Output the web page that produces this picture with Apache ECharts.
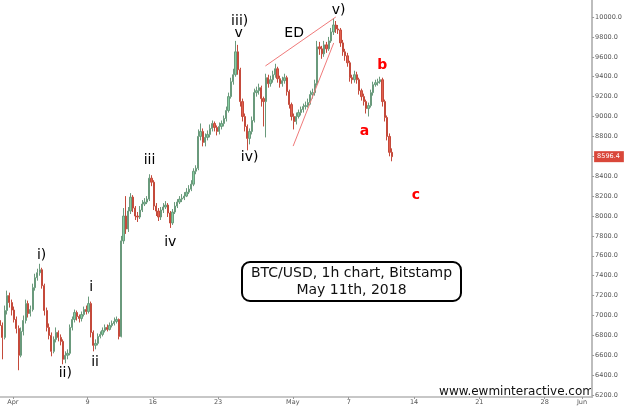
<!DOCTYPE html>
<html>
<head>
<meta charset="utf-8">
<title>BTC/USD 1h</title>
<script src="https://cdn.jsdelivr.net/npm/echarts@6.0.0/dist/echarts.min.js"></script>
<style>
  html, body { margin: 0; padding: 0; background: #fff; }
  #chart { width: 625px; height: 407px; }
</style>
</head>
<body>
<div id="chart"></div>
<script>
// 6h candles, first one opens Mar 30 12:00
const firstOpen = 6950;
const closes = [
  6900, 6780, 7050, 7200, 7130, 7055,
  6960, 6870, 6600, 6840, // Apr 1
  6950, 7120, 7020, 7060,
  7280, 7380, 7430, 7460,
  7300, 7050, 6880, 6800,
  6640, 6760, 6830, 6780,
  6740, 6560, 6600, 6620,
  6880, 6960, 7030, 6990,
  6970, 7010, 7060, 7040,
  7120, 6830, 6700, 6720, // Apr 9
  6790, 6810, 6850, 6880,
  6860, 6900, 6920, 6940,
  6960, 6790, 7750, 8000,
  7870, 8050, 8190, 8080,
  8000, 7990, 8060, 8120,
  8140, 8170, 8380, 8340,
  8100, 8050, 7990, 8060, // Apr 16
  8090, 8110, 8030, 7930,
  8040, 8100, 8140, 8170,
  8180, 8200, 8240, 8270,
  8320, 8450, 8480, 8800,
  8850, 8740, 8790, 8820,
  8880, 8930, 8890, 8850,
  8900, 8930, 8980, 9060, // Apr 23
  9200, 9350, 9420, 9650,
  9470, 9150, 9000, 8900,
  8780, 8850, 8960, 9240,
  9260, 9290, 9180, 9150,
  9390, 9330, 9370, 9420,
  9480, 9380, 9330, 9360,
  9390, 9250, 9120, 9000,
  8950, 9000, 9040, 9070, // May 1
  9100, 9110, 9140, 9220,
  9240, 9330, 9700, 9680,
  9630, 9720, 9680, 9760,
  9850, 9920, 9880, 9870,
  9740, 9650, 9610, 9540,
  9390, 9370, 9420, 9370, // May 7
  9260, 9200, 9150, 9080,
  9110, 9240, 9320, 9340,
  9350, 9370, 9150, 8990,
  8800, 8640, 8596.4
];
const highs = [
  7000, 6930, 7100, 7250, 7230, 7160,
  7090, 6990, 6900, 6880,
  7000, 7160, 7150, 7100,
  7320, 7420, 7470, 7520,
  7480, 7320, 7080, 6920,
  6830, 6790, 6880, 6850,
  6810, 6760, 6640, 6660,
  6910, 6990, 7060, 7050,
  7010, 7040, 7090, 7100,
  7190, 7140, 6850, 6760,
  6820, 6840, 6880, 6910,
  6910, 6930, 6950, 6980,
  6990, 6970, 7800, 8080,
  8200, 8090, 8230, 8210,
  8100, 8040, 8100, 8160,
  8180, 8200, 8420, 8410,
  8360, 8130, 8080, 8090,
  8130, 8150, 8130, 8050,
  8070, 8140, 8170, 8200,
  8220, 8240, 8280, 8310,
  8360, 8480, 8510, 8870,
  8930, 8880, 8830, 8860,
  8920, 8960, 8950, 8910,
  8940, 8960, 9010, 9100,
  9240, 9390, 9480, 9760,
  9720, 9490, 9180, 9030,
  8920, 8880, 9000, 9280,
  9300, 9330, 9310, 9200,
  9430, 9420, 9410, 9460,
  9530, 9500, 9410, 9400,
  9430, 9410, 9270, 9140,
  9030, 9040, 9070, 9100,
  9130, 9150, 9180, 9260,
  9280, 9370, 9760, 9750,
  9710, 9760, 9750, 9800,
  9890, 9990, 9960, 9920,
  9890, 9770, 9680, 9640,
  9560, 9420, 9460, 9450,
  9390, 9280, 9230, 9170,
  9140, 9270, 9350, 9370,
  9380, 9400, 9390, 9170,
  9010, 8830, 8680
];
const lows = [
  6860, 6560, 6760, 7010, 7080, 7000,
  6930, 6820, 6450, 6580,
  6800, 6920, 6980, 6990,
  7040, 7250, 7350, 7400,
  7270, 7000, 6840, 6760,
  6590, 6620, 6730, 6740,
  6700, 6510, 6520, 6560,
  6600, 6850, 6930, 6950,
  6930, 6940, 6990, 7010,
  7020, 6780, 6640, 6660,
  6700, 6770, 6790, 6830,
  6840, 6850, 6880, 6900,
  6920, 6760, 6780, 7720,
  7820, 7840, 8020, 8040,
  7960, 7940, 7970, 8040,
  8100, 8120, 8150, 8300,
  8060, 8000, 7950, 7960,
  8030, 8070, 7990, 7880,
  7910, 8020, 8080, 8120,
  8140, 8160, 8190, 8220,
  8250, 8300, 8420, 8460,
  8760, 8700, 8700, 8760,
  8790, 8850, 8850, 8810,
  8820, 8870, 8900, 8950,
  9040, 9180, 9320, 9400,
  9420, 9100, 8950, 8850,
  8660, 8720, 8820, 8940,
  9200, 9220, 9100, 8900,
  8790, 9290, 9300, 9340,
  9390, 9340, 9290, 9300,
  9330, 9210, 9080, 8960,
  8870, 8920, 8980, 9010,
  9040, 9070, 9090, 9120,
  9180, 9210, 9310, 9620,
  9580, 9600, 9640, 9660,
  9740, 9820, 9840, 9830,
  9700, 9610, 9560, 9500,
  9350, 9330, 9340, 9330,
  9220, 9160, 9110, 9030,
  9000, 9090, 9210, 9300,
  9310, 9330, 9100, 8950,
  8760, 8600, 8550
];

const priceTicks = [6200, 6400, 6600, 6800, 7000, 7200, 7400, 7600, 7800, 8000,
  8200, 8400, 8800, 9000, 9200, 9400, 9600, 9800, 10000];
const dateTicks = ['2018-04-01', '2018-04-09', '2018-04-16', '2018-04-23', '2018-05-01',
  '2018-05-07', '2018-05-14', '2018-05-21', '2018-05-28', '2018-06-01'];
const dateTickLabels = ['Apr', '9', '16', '23', 'May', '7', '14', '21', '28', 'Jun'];

// wave count labels: [time, price, text]
const waveLabels = [
  ['2018-04-04 02:00', 7600, 'i)'],
  ['2018-04-06 15:00', 6420, 'ii)'],
  ['2018-04-09 09:20', 7287, 'i'],
  ['2018-04-09 19:30', 6533, 'ii'],
  ['2018-04-15 15:40', 8563, 'iii'],
  ['2018-04-17 21:00', 7739, 'iv'],
  ['2018-04-25 07:30', 9960, 'iii)'],
  ['2018-04-25 05:00', 9839, 'v'],
  ['2018-04-26 09:00', 8593, 'iv)'],
  ['2018-05-01 03:30', 9839, 'ED'],
  ['2018-05-05 22:00', 10070, 'v)']
];
const abcLabels = [
  ['2018-05-08 16:30', 8854, 'a'],
  ['2018-05-10 14:20', 9518, 'b'],
  ['2018-05-14 05:00', 8211, 'c']
];
// ending diagonal trend lines
const edLines = [
  [['2018-04-28 01:40', 9508], ['2018-05-05 14:40', 10000]],
  [['2018-05-01 01:00', 8703], ['2018-05-05 09:20', 9739]]
];

function toTime(s) {
  const [d, t] = s.split(' ');
  const [y, m, day] = d.split('-').map(Number);
  const [hh, mm] = (t || '00:00').split(':').map(Number);
  return new Date(y, m - 1, day, hh, mm).getTime();
}

const start = new Date(2018, 2, 30, 12, 0).getTime();
const step = 6 * 3600 * 1000;
const n = Math.min(closes.length, highs.length, lows.length);
const candles = [];
for (let i = 0; i < n; i++) {
  const o = i === 0 ? firstOpen : closes[i - 1];
  candles.push([start + i * step + step / 2, o, closes[i], lows[i], highs[i]]);
}
const lastClose = closes[n - 1];

const tickTimes = dateTicks.map(toTime);
const font = 'DejaVu Sans';

const chart = echarts.init(document.getElementById('chart'));
const option = {
  animation: false,
  backgroundColor: '#fff',
  grid: { left: 0, right: 27, top: 0, bottom: 10 },
  xAxis: {
    type: 'value',
    min: toTime('2018-03-30 15:00'),
    max: toTime('2018-06-02 02:00'),
    axisLine: { show: true, lineStyle: { color: '#b5b5b5', width: 1.5 } },
    axisTick: { show: true, length: 2, lineStyle: { color: '#999' }, customValues: tickTimes },
    splitLine: { show: false },
    axisLabel: {
      customValues: tickTimes,
      fontSize: 6.5,
      color: '#555',
      margin: 2,
      fontFamily: font,
      formatter: (v) => {
        const i = tickTimes.indexOf(v);
        return i >= 0 ? dateTickLabels[i] : '';
      }
    }
  },
  yAxis: {
    type: 'value',
    position: 'right',
    min: 6181,
    max: 10171,
    axisLine: { show: true, lineStyle: { color: '#bdbdbd', width: 2 } },
    axisTick: { show: true, length: 2, lineStyle: { color: '#999' }, customValues: priceTicks.concat([8600]) },
    splitLine: { show: false },
    axisLabel: {
      customValues: priceTicks,
      fontSize: 6.5,
      color: '#555',
      margin: 3,
      fontFamily: font,
      formatter: (v) => v.toFixed(1)
    }
  },
  series: [
    {
      type: 'candlestick',
      encode: { x: 0, y: [1, 2, 3, 4] },
      data: candles,
      barWidth: 1.8,
      z: 2,
      itemStyle: {
        color: '#86cfa2',
        color0: '#e3604f',
        borderColor: '#6a9a7c',
        borderColor0: '#c44a3b',
        borderWidth: 1
      },
      markLine: {
        silent: true,
        symbol: 'none',
        animation: false,
        data: [
          ...edLines.map((l) => [
            { coord: [toTime(l[0][0]), l[0][1]], lineStyle: { color: '#f07a7a', width: 1, type: 'solid' }, label: { show: false } },
            { coord: [toTime(l[1][0]), l[1][1]] }
          ])
        ]
      }
    },
    {
      type: 'line',
      data: [],
      z: 10,
      markLine: {
        silent: true,
        symbol: 'none',
        animation: false,
        lineStyle: { color: 'rgba(0,0,0,0)', width: 0 },
        data: [{
          yAxis: lastClose,
          label: {
            show: true,
            position: 'end',
            distance: 2,
            formatter: lastClose.toFixed(1),
            backgroundColor: '#d9473a',
            color: '#fff',
            fontSize: 6.5,
            fontFamily: font,
            padding: [2, 4, 2, 3]
          }
        }]
      }
    },
    {
      type: 'scatter',
      symbolSize: 0,
      silent: true,
      itemStyle: { opacity: 1 },
      data: waveLabels.map((d) => [toTime(d[0]), d[1], d[2]]),
      label: {
        show: true,
        position: 'inside',
        formatter: (p) => p.value[2],
        fontSize: 14,
        fontFamily: font,
        color: '#000',
        opacity: 1,
        textBorderWidth: 0
      }
    },
    {
      type: 'scatter',
      symbolSize: 0,
      silent: true,
      itemStyle: { opacity: 1 },
      data: abcLabels.map((d) => [toTime(d[0]), d[1], d[2]]),
      label: {
        show: true,
        position: 'inside',
        formatter: (p) => p.value[2],
        fontSize: 14,
        fontWeight: 'bold',
        fontFamily: font,
        color: '#ff0000',
        opacity: 1,
        textBorderWidth: 0
      }
    }
  ],
  graphic: [
    {
      type: 'rect',
      shape: { x: 242, y: 262, width: 219, height: 39, r: 8 },
      style: { fill: '#fff', stroke: '#000', lineWidth: 2 }
    },
    {
      type: 'text',
      x: 351.5,
      y: 281.5,
      style: {
        text: 'BTC/USD, 1h chart, Bitstamp\nMay 11th, 2018',
        align: 'center',
        verticalAlign: 'middle',
        font: '14px "DejaVu Sans"',
        lineHeight: 17,
        fill: '#111'
      }
    },
    {
      type: 'text',
      x: 594,
      y: 392,
      style: {
        text: 'www.ewminteractive.com',
        align: 'right',
        verticalAlign: 'middle',
        font: '12px "DejaVu Sans"',
        fill: '#111'
      }
    }
  ]
};
chart.setOption(option);
</script>
</body>
</html>
